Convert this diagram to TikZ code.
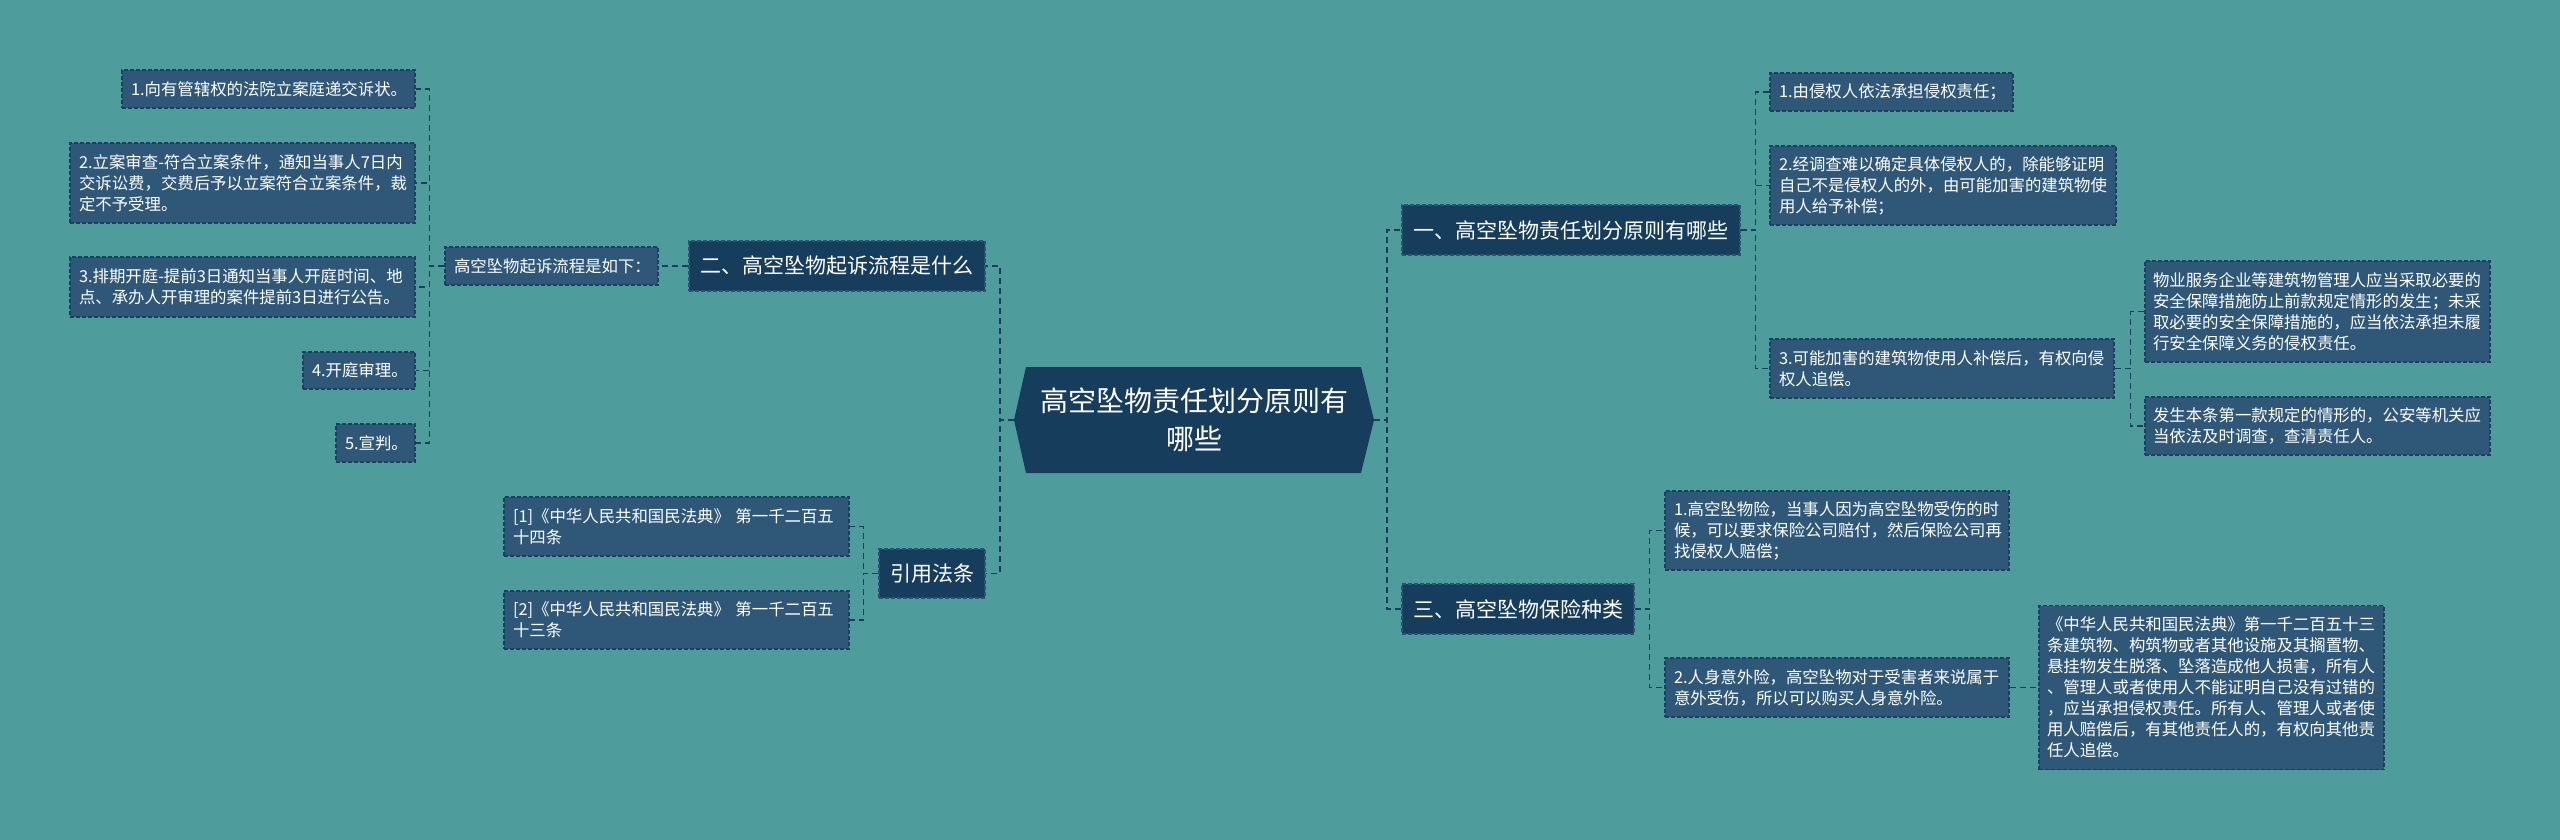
\documentclass[tikz,border=0pt]{standalone}
\usepackage{fontspec}
\setmainfont{Noto Sans CJK SC}
\definecolor{bgc}{HTML}{4E9C9C}
\definecolor{l1c}{HTML}{173D5C}
\definecolor{l2c}{HTML}{2F5878}
\definecolor{bordc}{HTML}{1C4060}
\definecolor{bord1}{HTML}{2A5272}
\definecolor{connc}{HTML}{1D3D5A}
\begin{document}
\begin{tikzpicture}[x=1pt,y=-1pt,
  box/.style={rectangle, inner sep=0pt, text=white, line width=1.2pt, dash pattern=on 4pt off 2pt},
  l2/.style={box, fill=l2c, draw=bordc, align=left, font=\fontsize{16.4}{21}\selectfont},
  l1/.style={box, fill=l1c, draw=bord1, align=center, font=\fontsize{21}{26}\selectfont},
  sz/.style n args={3}{minimum width=#1pt, minimum height=#2pt, text width=#3pt},
  conn/.style={draw=connc, line width=1.5pt, dash pattern=on 6pt off 4pt}]
\useasboundingbox (0,0) rectangle (2560,840);
\fill[bgc] (0,0) rectangle (2560,840);

% center hexagon
\fill[l1c] (1026,367) -- (1361,367) -- (1374,420) -- (1361,473) -- (1026,473) -- (1014,420) -- cycle;
\node[inner sep=0pt, minimum width=360pt, minimum height=106pt, align=center, text=white,
  font=\fontsize{28}{38}\selectfont] (c) at (1194,420) {高空坠物责任划分原则有\\哪些};

% left branch: 二
\node[l1, minimum width=296pt, minimum height=50pt] (n2) at (837,266) {二、高空坠物起诉流程是什么};
\node[l2, sz={213}{38}{195}] (rx) at (551.5,266) {高空坠物起诉流程是如下：};
\node[l2, sz={293}{38}{275}] (b1) at (268.5,89) {1.向有管辖权的法院立案庭递交诉状。};
\node[l2, sz={345}{80}{327}] (b2) at (242.5,183) {2.立案审查-符合立案条件，通知当事人7日内\\交诉讼费，交费后予以立案符合立案条件，裁\\定不予受理。};
\node[l2, sz={345}{60}{327}] (b3) at (242.5,287) {3.排期开庭-提前3日通知当事人开庭时间、地\\点、承办人开审理的案件提前3日进行公告。};
\node[l2, sz={112}{37}{94}] (b4) at (359,370.5) {4.开庭审理。};
\node[l2, sz={79}{38}{61}] (b5) at (375.5,443) {5.宣判。};

% left branch: 引用法条
\node[l1, minimum width=106pt, minimum height=49pt] (yy) at (932,573.5) {引用法条};
\node[l2, sz={345}{59}{327}] (ref1) at (676.5,526.5) {[1]《中华人民共和国民法典》 第一千二百五\\十四条};
\node[l2, sz={345}{58}{327}] (ref2) at (676.5,620) {[2]《中华人民共和国民法典》 第一千二百五\\十三条};

% right branch: 一
\node[l1, minimum width=338pt, minimum height=50pt] (n1) at (1571,230) {一、高空坠物责任划分原则有哪些};
\node[l2, sz={243}{38}{225}] (a1) at (1891.5,92) {1.由侵权人依法承担侵权责任；};
\node[l2, sz={346}{79}{328}] (a2) at (1943,185.5) {2.经调查难以确定具体侵权人的，除能够证明\\自己不是侵权人的外，由可能加害的建筑物使\\用人给予补偿；};
\node[l2, sz={344}{59}{326}] (a3) at (1942,368.5) {3.可能加害的建筑物使用人补偿后，有权向侵\\权人追偿。};
\node[l2, sz={345}{101}{329}] (a31) at (2317.5,311.5) {物业服务企业等建筑物管理人应当采取必要的\\安全保障措施防止前款规定情形的发生；未采\\取必要的安全保障措施的，应当依法承担未履\\行安全保障义务的侵权责任。};
\node[l2, sz={345}{58}{329}] (a32) at (2317.5,426) {发生本条第一款规定的情形的，公安等机关应\\当依法及时调查，查清责任人。};

% right branch: 三
\node[l1, minimum width=232pt, minimum height=50pt] (n3) at (1518,609) {三、高空坠物保险种类};
\node[l2, sz={344}{79}{326}] (i1) at (1837,530.5) {1.高空坠物险，当事人因为高空坠物受伤的时\\候，可以要求保险公司赔付，然后保险公司再\\找侵权人赔偿；};
\node[l2, sz={344}{59}{326}] (i2) at (1837,687.5) {2.人身意外险，高空坠物对于受害者来说属于\\意外受伤，所以可以购买人身意外险。};
\node[l2, sz={345}{164}{329}] (i21) at (2211.5,687.5) {《中华人民共和国民法典》第一千二百五十三\\条建筑物、构筑物或者其他设施及其搁置物、\\悬挂物发生脱落、坠落造成他人损害，所有人\\、管理人或者使用人不能证明自己没有过错的\\，应当承担侵权责任。所有人、管理人或者使\\用人赔偿后，有其他责任人的，有权向其他责\\任人追偿。};

% connectors
\draw[conn] (c.west) -- ++(-14,0) |- (n2.east);
\draw[conn] (c.west) -- ++(-14,0) |- (yy.east);
\draw[conn] (c.east) -- ++(13,0) |- (n1.west);
\draw[conn] (c.east) -- ++(13,0) |- (n3.west);
\draw[conn] (n2.west) -- (rx.east);
\foreach \t in {b1,b2,b3,b4,b5} \draw[conn] (rx.west) -- ++(-15,0) |- (\t.east);
\foreach \t in {ref1,ref2} \draw[conn] (yy.west) -- ++(-15,0) |- (\t.east);
\foreach \t in {a1,a2,a3} \draw[conn] (n1.east) -- ++(15,0) |- (\t.west);
\foreach \t in {a31,a32} \draw[conn] (a3.east) -- ++(16,0) |- (\t.west);
\foreach \t in {i1,i2} \draw[conn] (n3.east) -- ++(15,0) |- (\t.west);
\draw[conn] (i2.east) -- (i21.west);
\end{tikzpicture}
\end{document}
